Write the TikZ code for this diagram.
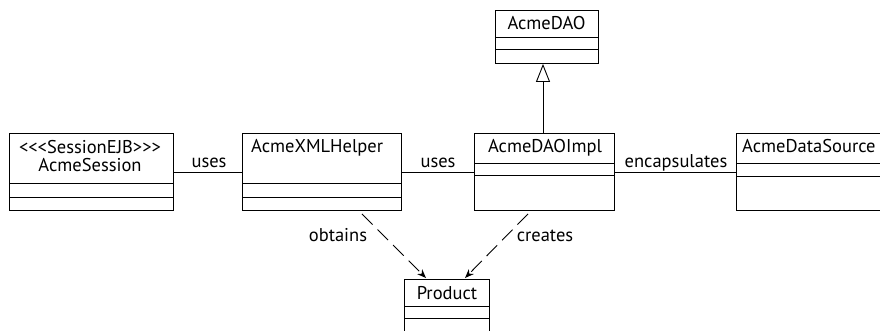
\documentclass[tikz,border=0pt]{standalone}
\usepackage{fontspec}
\setmainfont{PT Sans}[Ligatures=TeXOff]
\usetikzlibrary{arrows.meta,calc}
\begin{document}
\begin{tikzpicture}[x=1pt,y=-1pt,
  every node/.style={font=\fontsize{18.5}{21}\selectfont},
  cls/.style={draw,line width=0.9pt,rectangle,anchor=north west,inner sep=0pt},
  txt/.style={anchor=base,inner sep=0pt},
  conn/.style={line width=0.9pt},
  dep/.style={line width=0.9pt,dash pattern=on 15pt off 7pt,-{Stealth[length=9pt,width=7pt]}},
  inh/.style={line width=0.9pt,-{Triangle[open,length=18pt,width=14pt,fill=white]}}]
\clip (0,0) rectangle (880,330);
\fill[white] (0,0) rectangle (880,330);
% boxes
\node[cls,minimum width=164pt,minimum height=77pt] (session) at (9,133) {};
\node[cls,minimum width=159pt,minimum height=77pt] (helper) at (242,133) {};
\node[cls,minimum width=140pt,minimum height=77pt] (daoimpl) at (474,133) {};
\node[cls,minimum width=170pt,minimum height=77pt] (ds) at (736,133) {};
\node[cls,minimum width=103pt,minimum height=53pt] (dao) at (495,10) {};
\node[cls,minimum width=85pt,minimum height=70pt] (product) at (404,279) {};
% compartments
\foreach \n/\a/\b in {session/183/197, helper/183/197, daoimpl/163/175, ds/163/176, dao/37/49, product/306/318}{
  \draw[conn] (\n.west |- 0,\a) -- (\n.east |- 0,\a);
  \draw[conn] (\n.west |- 0,\b) -- (\n.east |- 0,\b);
}
% class names
\node[txt] (t1) at (90,153) {<<<SessionEJB>>>};
\node[txt] (t2) at (90,171) {AcmeSession};
\node[txt,anchor=base west] (t3) at (251,152) {AcmeXMLHelper};
\node[txt] (t4) at (545,152) {AcmeDAOImpl};
\node[txt,anchor=base west] (t5) at (742,152) {AcmeDataSource};
\node[txt] (t6) at (546.5,29) {AcmeDAO};
\node[txt] (t7) at (447,299) {Product};
% associations
\coordinate (ly) at (0,172);
\draw[conn] (session.east |- ly) -- (helper.west |- ly);
\draw[conn] (helper.east |- ly) -- (daoimpl.west |- ly);
\draw[conn] (daoimpl.east |- ly) -- (ds.west |- ly);
\node[txt] (l1) at (209,167) {uses};
\node[txt] (l2) at (438,167) {uses};
\node[txt] (l3) at (676,167) {encapsulates};
% generalization
\draw[inh] (daoimpl.north -| 543,0) -- (dao.south -| 543,0);
% dependencies
\coordinate (o1) at ($(helper.south west)+(120,3)$);
\coordinate (o2) at ($(product.north west)+(22,-1)$);
\coordinate (c1) at ($(daoimpl.south west)+(54,3)$);
\coordinate (c2) at ($(product.north west)+(61,-1)$);
\draw[dep] (o1) -- (o2);
\draw[dep] (c1) -- (c2);
\node[txt] (l4) at (338,241) {obtains};
\node[txt] (l5) at (545,241) {creates};
\end{tikzpicture}
\end{document}
